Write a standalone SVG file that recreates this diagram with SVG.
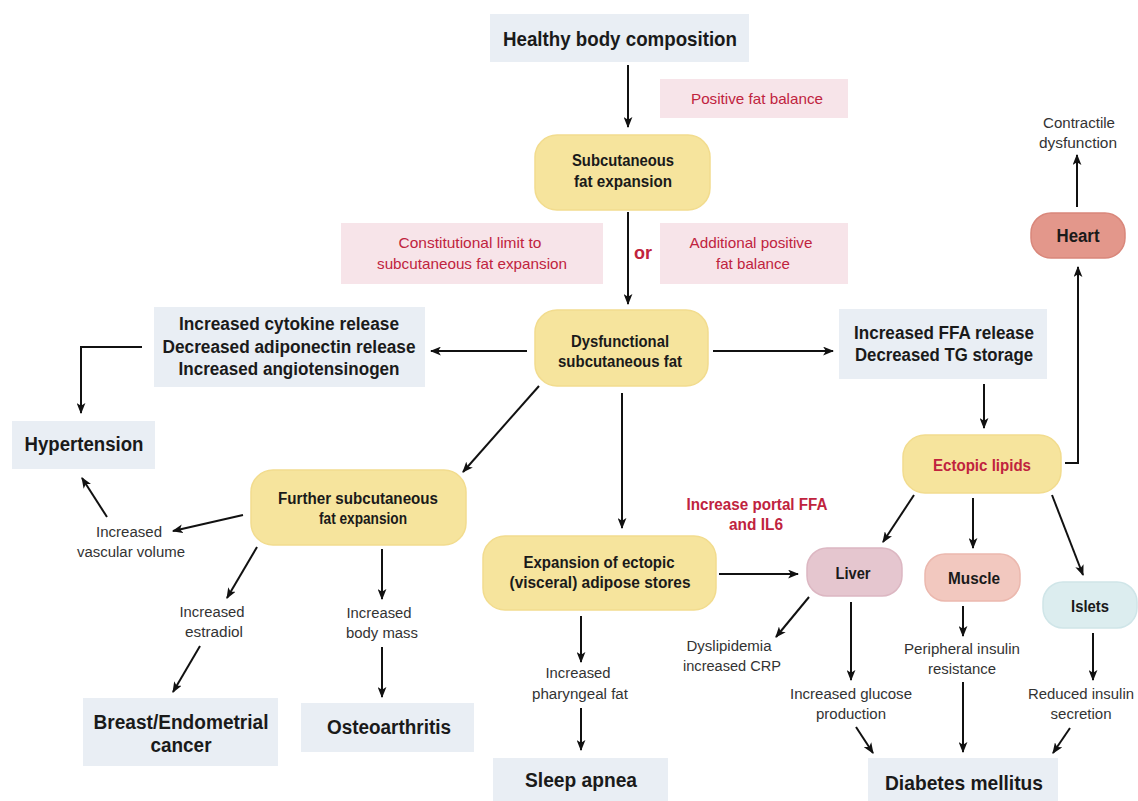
<svg xmlns="http://www.w3.org/2000/svg" width="1138" height="801" viewBox="0 0 1138 801">
<defs>
<marker id="ah" viewBox="0 0 10 8" refX="9" refY="4" markerWidth="11" markerHeight="9" orient="auto" markerUnits="userSpaceOnUse">
<path d="M0,0 L10,4 L0,8 L2.5,4 z" fill="#111"/>
</marker>
<style>
.gb{fill:#e9eef4}
.pk{fill:#f7e4e9}
.yl{fill:#f6e49d;stroke:#f2dc8e;stroke-width:1.5}
.b{font-family:"Liberation Sans",Arial,sans-serif;font-weight:bold;fill:#1a1a1a;text-anchor:middle}
.r{font-family:"Liberation Sans",Arial,sans-serif;fill:#333;text-anchor:middle}
.cr{fill:#c0233e}
.c line,.c path{stroke:#111;stroke-width:2;fill:none;marker-end:url(#ah)}
</style>
</defs>
<rect width="1138" height="801" fill="#fff"/>

<g id="healthy"><rect class="gb" x="490" y="14" width="259" height="48"/>
<text class="b" x="620" y="46" font-size="21" textLength="234" lengthAdjust="spacingAndGlyphs">Healthy body composition</text></g>

<g id="positive"><rect class="pk" x="660" y="79" width="188" height="39"/>
<text class="r cr" x="757" y="104" font-size="15" textLength="132" lengthAdjust="spacingAndGlyphs">Positive fat balance</text></g>

<g id="subcut"><rect class="yl" x="535" y="135" width="175" height="75" rx="22"/>
<text class="b" x="623" y="166" font-size="16" textLength="102" lengthAdjust="spacingAndGlyphs">Subcutaneous</text>
<text class="b" x="623" y="187" font-size="16" textLength="98" lengthAdjust="spacingAndGlyphs">fat expansion</text></g>

<g id="constit"><rect class="pk" x="341" y="223" width="262" height="61"/>
<text class="r cr" x="470" y="248" font-size="15" textLength="143" lengthAdjust="spacingAndGlyphs">Constitutional limit to</text>
<text class="r cr" x="472" y="269" font-size="15" textLength="190" lengthAdjust="spacingAndGlyphs">subcutaneous fat expansion</text></g>

<g id="or"><text class="b cr" x="643" y="259" font-size="18" fill="#a8122e">or</text></g>

<g id="additional"><rect class="pk" x="660" y="223" width="188" height="61"/>
<text class="r cr" x="751" y="248" font-size="15" textLength="123" lengthAdjust="spacingAndGlyphs">Additional positive</text>
<text class="r cr" x="753" y="269" font-size="15" textLength="74" lengthAdjust="spacingAndGlyphs">fat balance</text></g>

<g id="dysfunctional"><rect class="yl" x="535" y="310" width="173" height="76" rx="22"/>
<text class="b" x="620" y="347" font-size="16" textLength="98" lengthAdjust="spacingAndGlyphs">Dysfunctional</text>
<text class="b" x="620" y="367" font-size="16" textLength="124" lengthAdjust="spacingAndGlyphs">subcutaneous fat</text></g>

<g id="cytokine"><rect class="gb" x="154" y="307" width="271" height="80"/>
<text class="b" x="289" y="330" font-size="18" textLength="220" lengthAdjust="spacingAndGlyphs">Increased cytokine release</text>
<text class="b" x="289" y="353" font-size="18" textLength="253" lengthAdjust="spacingAndGlyphs">Decreased adiponectin release</text>
<text class="b" x="289" y="375" font-size="18" textLength="221" lengthAdjust="spacingAndGlyphs">Increased angiotensinogen</text></g>

<g id="ffa"><rect class="gb" x="839" y="309" width="208" height="70"/>
<text class="b" x="944" y="339" font-size="18" textLength="180" lengthAdjust="spacingAndGlyphs">Increased FFA release</text>
<text class="b" x="944" y="361" font-size="18" textLength="178" lengthAdjust="spacingAndGlyphs">Decreased TG storage</text></g>

<g id="hypertension"><rect class="gb" x="12" y="421" width="143" height="48"/>
<text class="b" x="84" y="451" font-size="20" textLength="119" lengthAdjust="spacingAndGlyphs">Hypertension</text></g>

<g id="vascular"><text class="r" x="129" y="537" font-size="14" textLength="66" lengthAdjust="spacingAndGlyphs">Increased</text>
<text class="r" x="131" y="557" font-size="14" textLength="108" lengthAdjust="spacingAndGlyphs">vascular volume</text></g>

<g id="further"><rect class="yl" x="251" y="470" width="215" height="75" rx="22"/>
<text class="b" x="358" y="504" font-size="16" textLength="160" lengthAdjust="spacingAndGlyphs">Further subcutaneous</text>
<text class="b" x="363" y="524" font-size="16" textLength="88" lengthAdjust="spacingAndGlyphs">fat expansion</text></g>

<g id="estradiol"><text class="r" x="212" y="617" font-size="14" textLength="65" lengthAdjust="spacingAndGlyphs">Increased</text>
<text class="r" x="214" y="637" font-size="14" textLength="58" lengthAdjust="spacingAndGlyphs">estradiol</text></g>

<g id="bodymass"><text class="r" x="379" y="618" font-size="14" textLength="65" lengthAdjust="spacingAndGlyphs">Increased</text>
<text class="r" x="382" y="638" font-size="14" textLength="72" lengthAdjust="spacingAndGlyphs">body mass</text></g>

<g id="breast"><rect class="gb" x="83" y="698" width="195" height="68"/>
<text class="b" x="181" y="729" font-size="20" textLength="175" lengthAdjust="spacingAndGlyphs">Breast/Endometrial</text>
<text class="b" x="181" y="752" font-size="20" textLength="61" lengthAdjust="spacingAndGlyphs">cancer</text></g>

<g id="osteo"><rect class="gb" x="301" y="703" width="173" height="49"/>
<text class="b" x="389" y="734" font-size="20" textLength="124" lengthAdjust="spacingAndGlyphs">Osteoarthritis</text></g>

<g id="expansion"><rect class="yl" x="483" y="536" width="233" height="74" rx="22"/>
<text class="b" x="599" y="568" font-size="16" textLength="151" lengthAdjust="spacingAndGlyphs">Expansion of ectopic</text>
<text class="b" x="600" y="588" font-size="16" textLength="181" lengthAdjust="spacingAndGlyphs">(visceral) adipose stores</text></g>

<g id="pharyngeal"><text class="r" x="578" y="678" font-size="14" textLength="65" lengthAdjust="spacingAndGlyphs">Increased</text>
<text class="r" x="580" y="699" font-size="14" textLength="96" lengthAdjust="spacingAndGlyphs">pharyngeal fat</text></g>

<g id="sleep"><rect class="gb" x="493" y="758" width="175" height="43"/>
<text class="b" x="581" y="787" font-size="20" textLength="112" lengthAdjust="spacingAndGlyphs">Sleep apnea</text></g>

<g id="portal"><text class="b cr" x="757" y="510" font-size="16" textLength="141" lengthAdjust="spacingAndGlyphs">Increase portal FFA</text>
<text class="b cr" x="756" y="530" font-size="16" textLength="54" lengthAdjust="spacingAndGlyphs">and IL6</text></g>

<g id="ectopic"><rect class="yl" x="903" y="435" width="158" height="58" rx="22"/>
<text class="b cr" x="982" y="471" font-size="16" textLength="98" lengthAdjust="spacingAndGlyphs">Ectopic lipids</text></g>

<g id="heart"><rect x="1031" y="213" width="94" height="45" rx="20" fill="#e3978b" stroke="#d9877b" stroke-width="1.5"/>
<text class="b" x="1078" y="242" font-size="18" textLength="43" lengthAdjust="spacingAndGlyphs">Heart</text></g>

<g id="contractile"><text class="r" x="1079" y="128" font-size="14" textLength="72" lengthAdjust="spacingAndGlyphs">Contractile</text>
<text class="r" x="1078" y="148" font-size="14" textLength="78" lengthAdjust="spacingAndGlyphs">dysfunction</text></g>

<g id="liver"><rect x="807" y="548" width="95" height="48" rx="20" fill="#e5c6cf" stroke="#dcb7c2" stroke-width="1.5"/>
<text class="b" x="853" y="579" font-size="17" textLength="35" lengthAdjust="spacingAndGlyphs">Liver</text></g>

<g id="muscle"><rect x="925" y="554" width="95" height="47" rx="20" fill="#f2c8bf" stroke="#ebb8ae" stroke-width="1.5"/>
<text class="b" x="974" y="584" font-size="17" textLength="52" lengthAdjust="spacingAndGlyphs">Muscle</text></g>

<g id="islets"><rect x="1043" y="582" width="94" height="46" rx="20" fill="#dcedef" stroke="#cfe5e8" stroke-width="1.5"/>
<text class="b" x="1090" y="612" font-size="17" textLength="38" lengthAdjust="spacingAndGlyphs">Islets</text></g>

<g id="dyslipidemia"><text class="r" x="729" y="651" font-size="14" textLength="85" lengthAdjust="spacingAndGlyphs">Dyslipidemia</text>
<text class="r" x="732" y="671" font-size="14" textLength="98" lengthAdjust="spacingAndGlyphs">increased CRP</text></g>

<g id="glucose"><text class="r" x="851" y="699" font-size="14" textLength="122" lengthAdjust="spacingAndGlyphs">Increased glucose</text>
<text class="r" x="851" y="719" font-size="14" textLength="70" lengthAdjust="spacingAndGlyphs">production</text></g>

<g id="peripheral"><text class="r" x="962" y="654" font-size="14" textLength="116" lengthAdjust="spacingAndGlyphs">Peripheral insulin</text>
<text class="r" x="962" y="674" font-size="14" textLength="68" lengthAdjust="spacingAndGlyphs">resistance</text></g>

<g id="reduced"><text class="r" x="1081" y="699" font-size="14" textLength="106" lengthAdjust="spacingAndGlyphs">Reduced insulin</text>
<text class="r" x="1081" y="719" font-size="14" textLength="61" lengthAdjust="spacingAndGlyphs">secretion</text></g>

<g id="diabetes"><rect class="gb" x="868" y="758" width="190" height="43"/>
<text class="b" x="964" y="790" font-size="21" textLength="158" lengthAdjust="spacingAndGlyphs">Diabetes mellitus</text></g>

<g id="connectors" class="c">
<line x1="628" y1="65" x2="628" y2="127"/>
<line x1="628" y1="212" x2="628" y2="304"/>
<line x1="527" y1="351" x2="431" y2="351"/>
<line x1="713" y1="351" x2="833" y2="351"/>
<path d="M142,347 H81 V413"/>
<line x1="539" y1="386" x2="463" y2="472"/>
<line x1="622" y1="393" x2="622" y2="528"/>
<line x1="984" y1="384" x2="984" y2="428"/>
<path d="M1065,463 H1078 V267"/>
<line x1="1077" y1="207" x2="1077" y2="155"/>
<line x1="243" y1="515" x2="173" y2="531"/>
<line x1="107" y1="517" x2="82" y2="478"/>
<line x1="257" y1="547" x2="227" y2="598"/>
<line x1="200" y1="646" x2="173" y2="692"/>
<line x1="382" y1="549" x2="382" y2="599"/>
<line x1="382" y1="647" x2="382" y2="697"/>
<line x1="581" y1="616" x2="581" y2="662"/>
<line x1="581" y1="708" x2="581" y2="750"/>
<line x1="719" y1="574" x2="798" y2="574"/>
<line x1="914" y1="495" x2="883" y2="542"/>
<line x1="973" y1="498" x2="973" y2="548"/>
<line x1="1052" y1="495" x2="1083" y2="575"/>
<line x1="809" y1="597" x2="776" y2="637"/>
<line x1="851" y1="602" x2="851" y2="680"/>
<line x1="856" y1="727" x2="873" y2="753"/>
<line x1="963" y1="606" x2="963" y2="636"/>
<line x1="963" y1="682" x2="963" y2="752"/>
<line x1="1093" y1="633" x2="1093" y2="680"/>
<line x1="1070" y1="728" x2="1053" y2="753"/>
</g>
</svg>
